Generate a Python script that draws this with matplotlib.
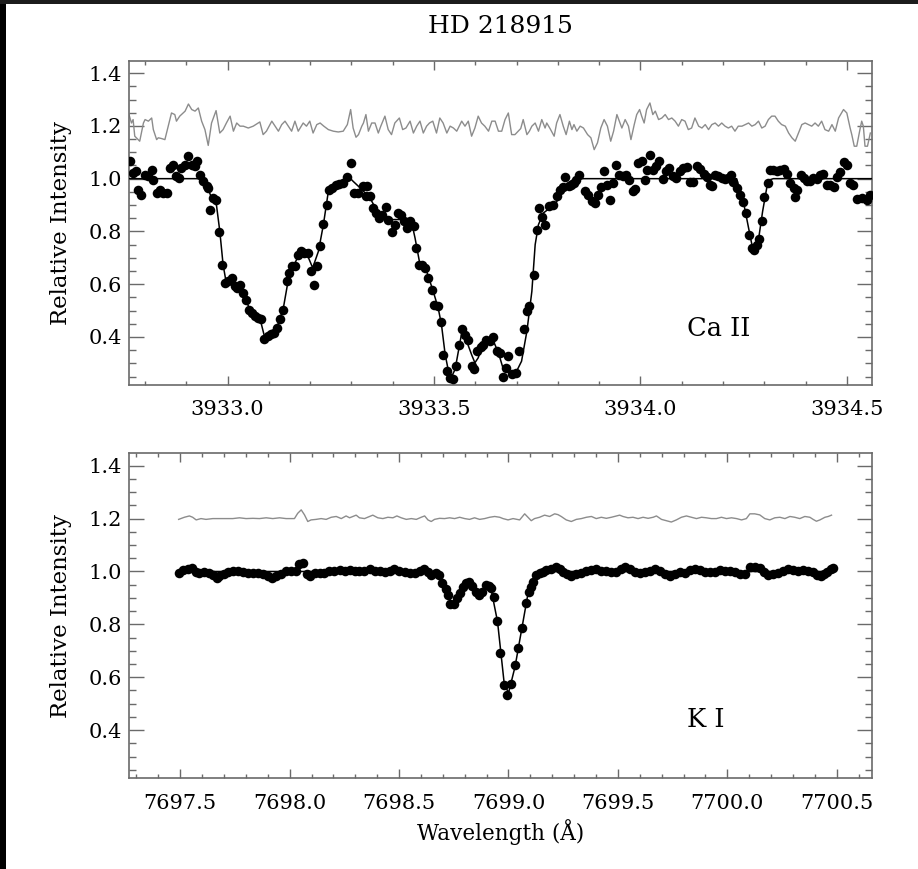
# -*- coding:utf-8 -*-
import matplotlib
matplotlib.use('Agg')
import matplotlib.pyplot as plt
from matplotlib.ticker import MultipleLocator, FormatStrFormatter
from matplotlib.patches import Rectangle

# ---------------- Ca II (upper panel) ----------------
ca_wave = [3932.763, 3932.770, 3932.778, 3932.783, 3932.791, 3932.800, 3932.808, 3932.816, 3932.820, 3932.828,
           3932.836, 3932.844, 3932.852, 3932.860, 3932.868, 3932.876, 3932.883, 3932.888, 3932.897, 3932.905,
           3932.913, 3932.921, 3932.926, 3932.933, 3932.941, 3932.949, 3932.953, 3932.957, 3932.965, 3932.973,
           3932.979, 3932.987, 3932.993, 3933.002, 3933.010, 3933.018, 3933.023, 3933.030, 3933.038, 3933.044,
           3933.052, 3933.058, 3933.066, 3933.074, 3933.082, 3933.089, 3933.097, 3933.105, 3933.113, 3933.120,
           3933.127, 3933.135, 3933.143, 3933.149, 3933.155, 3933.163, 3933.170, 3933.178, 3933.186, 3933.195,
           3933.201, 3933.210, 3933.217, 3933.224, 3933.232, 3933.240, 3933.246, 3933.254, 3933.262, 3933.270,
           3933.279, 3933.288, 3933.299, 3933.307, 3933.315, 3933.327, 3933.335, 3933.337, 3933.345, 3933.351,
           3933.359, 3933.367, 3933.375, 3933.384, 3933.389, 3933.397, 3933.405, 3933.412, 3933.420, 3933.428,
           3933.435, 3933.442, 3933.451, 3933.456, 3933.464, 3933.472, 3933.478, 3933.486, 3933.494, 3933.501,
           3933.510, 3933.517, 3933.522, 3933.531, 3933.539, 3933.547, 3933.553, 3933.561, 3933.567, 3933.575,
           3933.583, 3933.591, 3933.597, 3933.605, 3933.613, 3933.619, 3933.627, 3933.636, 3933.642, 3933.652,
           3933.660, 3933.666, 3933.674, 3933.680, 3933.688, 3933.699, 3933.707,
           3933.719, 3933.725, 3933.731, 3933.741, 3933.749, 3933.755, 3933.761, 3933.769, 3933.779, 3933.788,
           3933.797, 3933.805, 3933.813, 3933.818, 3933.826, 3933.832, 3933.838, 3933.844, 3933.851, 3933.866,
           3933.874, 3933.882, 3933.890, 3933.896, 3933.904, 3933.912, 3933.920, 3933.927, 3933.933, 3933.941,
           3933.949, 3933.957, 3933.965, 3933.973, 3933.981, 3933.987, 3933.995, 3934.003, 3934.010, 3934.015,
           3934.023, 3934.030, 3934.038, 3934.046, 3934.054, 3934.062, 3934.070, 3934.078, 3934.086, 3934.095,
           3934.104, 3934.112, 3934.120, 3934.128, 3934.136, 3934.145, 3934.153, 3934.161, 3934.169, 3934.174,
           3934.181, 3934.189, 3934.197, 3934.205, 3934.213, 3934.219, 3934.225, 3934.233, 3934.240, 3934.248,
           3934.256, 3934.264, 3934.271, 3934.275, 3934.282, 3934.287, 3934.294, 3934.300, 3934.308, 3934.314,
           3934.322, 3934.330, 3934.339, 3934.347, 3934.355, 3934.363, 3934.371, 3934.375, 3934.380, 3934.388,
           3934.397, 3934.403, 3934.411, 3934.419, 3934.427, 3934.435, 3934.443, 3934.452, 3934.460, 3934.468,
           3934.476, 3934.484, 3934.492, 3934.500, 3934.508, 3934.515, 3934.524, 3934.536, 3934.548, 3934.557]
ca_flux = [1.066, 1.021, 1.028, 0.958, 0.939, 1.015, 1.009, 1.034, 0.996, 0.946,
           0.958, 0.946, 0.946, 1.040, 1.053, 1.009, 1.003, 1.040, 1.053, 1.085,
           1.053, 1.047, 1.066, 1.015, 0.990, 0.971, 0.965, 0.883, 0.927, 0.920,
           0.797, 0.672, 0.605, 0.611, 0.624, 0.592, 0.586, 0.598, 0.567, 0.539,
           0.504, 0.491, 0.479, 0.472, 0.468, 0.394, 0.403, 0.412, 0.415, 0.434,
           0.468, 0.504, 0.611, 0.643, 0.668, 0.668, 0.712, 0.725, 0.718, 0.718,
           0.649, 0.598, 0.668, 0.744, 0.828, 0.899, 0.958, 0.965, 0.977, 0.981,
           0.984, 1.005, 1.059, 0.946, 0.946, 0.971, 0.933, 0.971, 0.933, 0.889,
           0.870, 0.851, 0.864, 0.891, 0.845, 0.797, 0.826, 0.870, 0.864, 0.838,
           0.813, 0.838, 0.819, 0.737, 0.674, 0.674, 0.662, 0.624, 0.577, 0.523,
           0.516, 0.456, 0.330, 0.270, 0.245, 0.241, 0.289, 0.371, 0.432, 0.409,
           0.390, 0.289, 0.277, 0.348, 0.361, 0.371, 0.390, 0.384, 0.399, 0.348,
           0.340, 0.247, 0.283, 0.327, 0.260, 0.264, 0.346,
           0.432, 0.497, 0.516, 0.633, 0.804, 0.889, 0.855, 0.823, 0.895, 0.899,
           0.933, 0.958, 0.967, 1.005, 0.971, 0.977, 0.984, 0.996, 1.013, 0.955,
           0.937, 0.914, 0.908, 0.939, 0.967, 1.028, 0.977, 0.920, 0.984, 1.053,
           1.015, 1.009, 1.015, 0.996, 0.952, 0.962, 1.059, 1.066, 0.996, 1.034,
           1.091, 1.034, 1.047, 1.066, 0.999, 1.030, 1.040, 1.009, 1.003, 1.028,
           1.040, 1.043, 0.987, 0.986, 1.047, 1.038, 1.018, 1.005, 0.977, 0.971,
           1.013, 1.009, 1.003, 1.000, 1.003, 1.013, 0.986, 0.965, 0.939, 0.910,
           0.870, 0.788, 0.737, 0.729, 0.750, 0.773, 0.841, 0.929, 0.984, 1.034,
           1.032, 1.028, 1.034, 1.038, 1.018, 0.984, 0.965, 0.931, 0.958, 1.013,
           1.003, 0.990, 0.992, 1.003, 1.000, 1.013, 1.018, 0.977, 0.977, 0.967,
           1.005, 1.025, 1.062, 1.053, 0.984, 0.977, 0.924, 0.927, 0.920, 0.937]

# fitted profile
ca_fit_wave = [3932.761, 3932.933, 3932.949, 3932.961, 3932.973, 3932.981, 3932.989, 3932.996, 3933.014, 3933.038,
               3933.054, 3933.078, 3933.089, 3933.102, 3933.119, 3933.135, 3933.147, 3933.159, 3933.175, 3933.190,
               3933.206, 3933.220, 3933.232, 3933.244, 3933.256, 3933.272, 3933.296, 3933.304, 3933.321, 3933.345,
               3933.361, 3933.377, 3933.393, 3933.409, 3933.426, 3933.446, 3933.454, 3933.466, 3933.482, 3933.498,
               3933.510, 3933.518, 3933.527, 3933.535, 3933.543, 3933.551, 3933.559, 3933.567, 3933.579, 3933.591,
               3933.599, 3933.607, 3933.619, 3933.636, 3933.644, 3933.656, 3933.668, 3933.684, 3933.700, 3933.712,
               3933.725, 3933.737, 3933.745, 3933.753, 3933.765, 3933.781, 3933.797, 3933.813, 3933.830, 3933.846,
               3934.233, 3934.250, 3934.262, 3934.270, 3934.278, 3934.286, 3934.296, 3934.306, 3934.314, 3934.322,
               3934.561]
ca_fit_flux = [1.0, 1.0, 0.977, 0.927, 0.899, 0.801, 0.674, 0.611, 0.592, 0.561,
               0.504, 0.472, 0.403, 0.409, 0.434, 0.510, 0.617, 0.668, 0.718, 0.722,
               0.662, 0.725, 0.826, 0.952, 0.977, 0.990, 1.003, 0.990, 0.965, 0.927,
               0.879, 0.857, 0.845, 0.845, 0.845, 0.832, 0.775, 0.674, 0.649, 0.573,
               0.510, 0.447, 0.333, 0.270, 0.251, 0.277, 0.346, 0.415, 0.384, 0.333,
               0.302, 0.321, 0.371, 0.394, 0.384, 0.340, 0.277, 0.264, 0.270, 0.308,
               0.422, 0.573, 0.750, 0.826, 0.870, 0.889, 0.912, 0.965, 0.990, 1.0,
               1.0, 0.908, 0.813, 0.750, 0.735, 0.769, 0.876, 0.965, 0.996, 1.0,
               1.0]

# residuals (shifted up to 1.2)
ca_res_wave = [3932.761, 3932.767, 3932.771, 3932.775, 3932.783, 3932.787, 3932.796, 3932.800, 3932.808, 3932.816,
               3932.820, 3932.828, 3932.832, 3932.840, 3932.848, 3932.856, 3932.864, 3932.872, 3932.876, 3932.884,
               3932.897, 3932.905, 3932.913, 3932.921, 3932.929, 3932.937, 3932.945, 3932.953, 3932.961, 3932.972,
               3932.981, 3932.989, 3932.997, 3933.006, 3933.014, 3933.022, 3933.030, 3933.038, 3933.050, 3933.062,
               3933.078, 3933.086, 3933.094, 3933.107, 3933.115, 3933.123, 3933.131, 3933.139, 3933.147, 3933.155,
               3933.163, 3933.171, 3933.183, 3933.191, 3933.199, 3933.207, 3933.216, 3933.224, 3933.233, 3933.244,
               3933.256, 3933.268, 3933.280, 3933.290, 3933.298, 3933.304, 3933.311, 3933.317, 3933.325, 3933.329,
               3933.335, 3933.341, 3933.349, 3933.357, 3933.365, 3933.371, 3933.381, 3933.389, 3933.397, 3933.405,
               3933.416, 3933.424, 3933.432, 3933.442, 3933.450, 3933.458, 3933.466, 3933.474, 3933.482, 3933.489,
               3933.497, 3933.506, 3933.514, 3933.522, 3933.531, 3933.539, 3933.547, 3933.555, 3933.567, 3933.575,
               3933.583, 3933.591, 3933.599, 3933.607, 3933.615, 3933.623, 3933.632, 3933.640, 3933.648, 3933.656,
               3933.664, 3933.672, 3933.680, 3933.688, 3933.696,
               3933.710, 3933.716, 3933.725, 3933.731, 3933.737, 3933.745, 3933.753, 3933.761, 3933.769, 3933.773,
               3933.781, 3933.791, 3933.797, 3933.805, 3933.813, 3933.820, 3933.828, 3933.834, 3933.839, 3933.846,
               3933.854, 3933.862, 3933.872, 3933.880, 3933.888, 3933.896, 3933.904, 3933.912, 3933.920, 3933.928,
               3933.935, 3933.943, 3933.949, 3933.955, 3933.963, 3933.971, 3933.977, 3933.985, 3933.991, 3933.998,
               3934.003, 3934.009, 3934.015, 3934.023, 3934.030, 3934.036, 3934.044, 3934.052, 3934.060, 3934.068,
               3934.076, 3934.084, 3934.092, 3934.100, 3934.108, 3934.116, 3934.124, 3934.132, 3934.141, 3934.149,
               3934.157, 3934.165, 3934.173, 3934.181, 3934.189, 3934.197, 3934.205, 3934.213, 3934.221, 3934.229,
               3934.237, 3934.246, 3934.254, 3934.262, 3934.270, 3934.278, 3934.286, 3934.294, 3934.302, 3934.310,
               3934.318, 3934.326, 3934.334, 3934.342, 3934.351, 3934.359, 3934.367, 3934.375, 3934.383, 3934.391,
               3934.399, 3934.407, 3934.415, 3934.423, 3934.431, 3934.439, 3934.447, 3934.456, 3934.464, 3934.472,
               3934.480, 3934.492, 3934.500, 3934.508, 3934.512, 3934.518, 3934.524, 3934.531, 3934.536, 3934.540,
               3934.544, 3934.550, 3934.557]
ca_res_flux = [1.243, 1.211, 1.224, 1.161, 1.148, 1.142, 1.211, 1.224, 1.218, 1.230,
               1.186, 1.148, 1.155, 1.152, 1.148, 1.199, 1.249, 1.243, 1.218, 1.237,
               1.256, 1.283, 1.262, 1.256, 1.268, 1.218, 1.186, 1.126, 1.211, 1.258,
               1.173, 1.186, 1.211, 1.237, 1.180, 1.211, 1.199, 1.199, 1.192, 1.199,
               1.215, 1.167, 1.180, 1.218, 1.199, 1.180, 1.205, 1.218, 1.199, 1.180,
               1.218, 1.180, 1.211, 1.199, 1.218, 1.173, 1.205, 1.211, 1.199, 1.186,
               1.180, 1.177, 1.180, 1.205, 1.262, 1.192, 1.157, 1.167, 1.199, 1.211,
               1.243, 1.180, 1.211, 1.211, 1.173, 1.199, 1.237, 1.186, 1.167, 1.211,
               1.230, 1.186, 1.192, 1.218, 1.173, 1.199, 1.218, 1.173, 1.199, 1.211,
               1.218, 1.173, 1.230, 1.211, 1.173, 1.199, 1.192, 1.180, 1.218, 1.199,
               1.218, 1.161, 1.192, 1.237, 1.211, 1.199, 1.180, 1.218, 1.218, 1.180,
               1.180, 1.224, 1.249, 1.167, 1.167,
               1.190, 1.224, 1.167, 1.180, 1.199, 1.211, 1.180, 1.224, 1.192, 1.211,
               1.190, 1.161, 1.211, 1.243, 1.199, 1.167, 1.218, 1.186, 1.205, 1.180,
               1.199, 1.192, 1.167, 1.155, 1.110, 1.136, 1.192, 1.224, 1.199, 1.142,
               1.180, 1.243, 1.218, 1.192, 1.224, 1.199, 1.148, 1.205, 1.243, 1.262,
               1.237, 1.211, 1.262, 1.287, 1.243, 1.256, 1.224, 1.230, 1.243, 1.224,
               1.230, 1.218, 1.199, 1.224, 1.218, 1.186, 1.192, 1.230, 1.199, 1.192,
               1.205, 1.186, 1.205, 1.211, 1.199, 1.211, 1.199, 1.192, 1.199, 1.180,
               1.199, 1.199, 1.205, 1.211, 1.199, 1.205, 1.218, 1.192, 1.199, 1.224,
               1.237, 1.237, 1.218, 1.205, 1.199, 1.173, 1.155, 1.142, 1.173, 1.205,
               1.211, 1.205, 1.199, 1.211, 1.199, 1.218, 1.186, 1.180, 1.205, 1.180,
               1.230, 1.262, 1.249, 1.192, 1.167, 1.123, 1.123, 1.180, 1.218, 1.199,
               1.123, 1.123, 1.173]

# ---------------- K I (lower panel) ----------------
k_wave = [7697.493, 7697.512, 7697.534, 7697.554, 7697.570, 7697.588, 7697.611, 7697.630, 7697.649, 7697.667,
          7697.679, 7697.698, 7697.717, 7697.740, 7697.763, 7697.786, 7697.809, 7697.832, 7697.855, 7697.877,
          7697.900, 7697.920, 7697.938, 7697.961, 7697.984, 7698.007, 7698.027, 7698.045, 7698.060, 7698.080,
          7698.094, 7698.114, 7698.137, 7698.159, 7698.182, 7698.205, 7698.228, 7698.251, 7698.274, 7698.297,
          7698.319, 7698.342, 7698.365, 7698.388, 7698.411, 7698.434, 7698.457, 7698.479, 7698.502, 7698.525,
          7698.548, 7698.571, 7698.594, 7698.612, 7698.632, 7698.647, 7698.667, 7698.682, 7698.697, 7698.713,
          7698.723, 7698.735, 7698.751, 7698.766, 7698.777, 7698.792, 7698.807, 7698.819, 7698.835, 7698.850,
          7698.865, 7698.880, 7698.896, 7698.911, 7698.922, 7698.932, 7698.948, 7698.963, 7698.978, 7698.993,
          7699.013, 7699.030, 7699.043, 7699.062, 7699.078, 7699.094, 7699.104, 7699.112, 7699.127, 7699.142,
          7699.158, 7699.173, 7699.196, 7699.219, 7699.234, 7699.249, 7699.267, 7699.287, 7699.310, 7699.333,
          7699.356, 7699.379, 7699.401, 7699.424, 7699.447, 7699.470, 7699.493, 7699.516, 7699.531, 7699.554,
          7699.577, 7699.600, 7699.622, 7699.645, 7699.668, 7699.691, 7699.714, 7699.737, 7699.760, 7699.783,
          7699.805, 7699.828, 7699.851, 7699.874, 7699.897, 7699.920, 7699.943, 7699.965, 7699.988, 7700.011,
          7700.034, 7700.057, 7700.080, 7700.103, 7700.125, 7700.148, 7700.167, 7700.186, 7700.209, 7700.232,
          7700.255, 7700.278, 7700.301, 7700.324, 7700.346, 7700.369, 7700.392, 7700.410, 7700.426, 7700.441,
          7700.456, 7700.472, 7700.484]
k_flux = [0.995, 1.005, 1.011, 1.014, 0.999, 0.995, 0.997, 0.995, 0.986, 0.977,
          0.982, 0.992, 0.997, 1.001, 1.003, 0.999, 0.996, 0.995, 0.995, 0.989,
          0.982, 0.977, 0.982, 0.992, 1.000, 1.001, 1.003, 1.030, 1.033, 0.992,
          0.984, 0.995, 0.995, 0.996, 1.000, 1.001, 1.005, 1.003, 1.005, 1.001,
          1.003, 1.001, 1.008, 1.003, 1.001, 0.999, 1.001, 1.008, 1.003, 0.999,
          0.995, 0.996, 1.003, 1.011, 0.999, 0.986, 0.995, 0.987, 0.957, 0.932,
          0.911, 0.877, 0.877, 0.898, 0.919, 0.942, 0.957, 0.961, 0.945, 0.923,
          0.911, 0.923, 0.948, 0.946, 0.936, 0.904, 0.813, 0.690, 0.570, 0.532,
          0.574, 0.646, 0.709, 0.785, 0.882, 0.923, 0.942, 0.961, 0.986, 0.995,
          0.999, 1.005, 1.011, 1.018, 1.011, 0.999, 0.992, 0.982, 0.990, 0.995,
          1.001, 1.005, 1.009, 1.003, 1.001, 0.999, 0.999, 1.008, 1.018, 1.008,
          0.999, 0.995, 0.999, 1.001, 1.008, 1.001, 0.992, 0.982, 0.992, 0.999,
          0.996, 1.005, 1.011, 1.005, 0.999, 0.999, 0.999, 1.005, 1.003, 1.001,
          0.999, 0.992, 0.992, 1.018, 1.018, 1.015, 0.999, 0.986, 0.990, 0.995,
          1.003, 1.008, 1.005, 1.001, 1.005, 1.001, 0.999, 0.986, 0.982, 0.992,
          0.999, 1.008, 1.014]

k_fit_wave = [7697.50, 7698.66, 7698.70, 7698.74, 7698.76, 7698.80, 7698.82, 7698.87, 7698.90, 7698.92,
              7698.95, 7698.98, 7699.00, 7699.03, 7699.06, 7699.09, 7699.13, 7699.17, 7700.48]
k_fit_flux = [1.0, 1.0, 0.955, 0.880, 0.890, 0.950, 0.960, 0.915, 0.945, 0.935,
              0.810, 0.580, 0.540, 0.640, 0.780, 0.920, 0.985, 1.0, 1.0]

k_res_wave = [7697.493, 7697.519, 7697.542, 7697.557, 7697.573, 7697.595, 7697.618, 7697.649, 7697.679, 7697.710,
              7697.740, 7697.771, 7697.801, 7697.832, 7697.862, 7697.893, 7697.923, 7697.954, 7697.984, 7698.022,
              7698.037, 7698.053, 7698.068, 7698.083, 7698.098, 7698.121, 7698.144, 7698.167, 7698.190, 7698.213,
              7698.236, 7698.258, 7698.274, 7698.289, 7698.304, 7698.319, 7698.342, 7698.365, 7698.380, 7698.403,
              7698.426, 7698.449, 7698.472, 7698.490, 7698.510, 7698.533, 7698.556, 7698.579, 7698.601, 7698.617,
              7698.632, 7698.647, 7698.662, 7698.685, 7698.708, 7698.731, 7698.754, 7698.777, 7698.800, 7698.822,
              7698.845, 7698.868, 7698.891, 7698.914, 7698.937, 7698.960, 7698.975, 7698.998, 7699.021, 7699.051,
              7699.074, 7699.089, 7699.104, 7699.119, 7699.142, 7699.165, 7699.188, 7699.211, 7699.226, 7699.241,
              7699.264, 7699.287, 7699.310, 7699.333, 7699.356, 7699.379, 7699.401, 7699.424, 7699.447, 7699.470,
              7699.493, 7699.508, 7699.523, 7699.546, 7699.569, 7699.592, 7699.615, 7699.638, 7699.661, 7699.676,
              7699.699, 7699.722, 7699.744, 7699.767, 7699.790, 7699.813, 7699.836, 7699.859, 7699.882, 7699.904,
              7699.927, 7699.950, 7699.973, 7699.996, 7700.019, 7700.042, 7700.065, 7700.087, 7700.103, 7700.125,
              7700.148, 7700.171, 7700.194, 7700.217, 7700.240, 7700.263, 7700.286, 7700.308, 7700.331, 7700.354,
              7700.377, 7700.392, 7700.407, 7700.423, 7700.446, 7700.461, 7700.476]
k_res_flux = [1.197, 1.205, 1.210, 1.205, 1.195, 1.200, 1.197, 1.200, 1.200, 1.200,
              1.200, 1.203, 1.200, 1.201, 1.200, 1.203, 1.200, 1.203, 1.200, 1.200,
              1.220, 1.233, 1.214, 1.189, 1.195, 1.197, 1.200, 1.197, 1.205, 1.208,
              1.200, 1.210, 1.203, 1.208, 1.213, 1.203, 1.200, 1.208, 1.213, 1.203,
              1.200, 1.205, 1.203, 1.210, 1.203, 1.197, 1.200, 1.197, 1.205, 1.210,
              1.195, 1.189, 1.197, 1.201, 1.200, 1.203, 1.200, 1.205, 1.200, 1.197,
              1.203, 1.197, 1.200, 1.205, 1.208, 1.205, 1.200, 1.195, 1.200, 1.195,
              1.218, 1.205, 1.192, 1.200, 1.205, 1.213, 1.208, 1.218, 1.215, 1.208,
              1.195, 1.189, 1.197, 1.200, 1.205, 1.208, 1.200, 1.205, 1.201, 1.205,
              1.210, 1.213, 1.208, 1.203, 1.205, 1.200, 1.205, 1.201, 1.205, 1.210,
              1.197, 1.192, 1.187, 1.195, 1.205, 1.210, 1.205, 1.200, 1.205, 1.203,
              1.200, 1.200, 1.205, 1.200, 1.203, 1.200, 1.195, 1.200, 1.218, 1.218,
              1.214, 1.200, 1.195, 1.203, 1.205, 1.200, 1.208, 1.205, 1.200, 1.208,
              1.205, 1.197, 1.190, 1.195, 1.205, 1.208, 1.213]

TITLE = "HD 218915"
FONT = 'DejaVu Serif'
FRAME = '#6a6a6a'
RESID = '#8c8c8c'

plt.rcParams['font.family'] = [FONT]
plt.rcParams['mathtext.fontset'] = 'dejavuserif'


# One spectrum panel: points, fit and residual line
def drawPanel(ax, wave, flux, fit_wave, fit_flux, res_wave, res_flux, xlim, label, label_pos):
    ax.plot(res_wave, res_flux, color=RESID, lw=1.0, zorder=2)
    ax.plot(fit_wave, fit_flux, color='black', lw=1.1, zorder=3)
    ax.plot(wave, flux, 'o', color='black', ms=6.9, mew=0, zorder=4)
    ax.text(label_pos[0], label_pos[1], label, fontsize=18.5, ha='left', va='center')

    ax.set_xlim(xlim)
    ax.set_ylim(0.218, 1.447)
    ax.xaxis.set_major_locator(MultipleLocator(0.5))
    ax.xaxis.set_minor_locator(MultipleLocator(0.1))
    ax.yaxis.set_major_locator(MultipleLocator(0.2))
    ax.yaxis.set_minor_locator(MultipleLocator(0.05))
    ax.xaxis.set_major_formatter(FormatStrFormatter('%.1f'))
    ax.yaxis.set_major_formatter(FormatStrFormatter('%.1f'))

    ax.tick_params(which='both', direction='in', top=True, right=True, colors=FRAME,
                   labelcolor='black', labelsize=15, width=1.0)
    ax.tick_params(axis='y', which='major', length=10.8, pad=5)
    ax.tick_params(axis='y', which='minor', length=5.2)
    ax.tick_params(axis='x', which='major', length=6.5, pad=11)
    ax.tick_params(axis='x', which='minor', length=3.2)
    for sp in ax.spines.values():
        sp.set_color(FRAME)
        sp.set_linewidth(1.2)

    ax.set_ylabel('Relative Intensity', fontsize=16.5)
    ax.yaxis.set_label_coords(-0.077, 0.5)


fig = plt.figure(figsize=(9.18, 8.69), dpi=100)
ax1 = fig.add_axes([0.1405, 0.5570, 0.8094, 0.3731])
ax2 = fig.add_axes([0.1405, 0.1044, 0.8094, 0.3740])

drawPanel(ax1, ca_wave, ca_flux, ca_fit_wave, ca_fit_flux, ca_res_wave, ca_res_flux,
          (3932.761, 3934.561), 'Ca II', (3934.113, 0.433))
drawPanel(ax2, k_wave, k_flux, k_fit_wave, k_fit_flux, k_res_wave, k_res_flux,
          (7697.266, 7700.661), 'K I', (7699.815, 0.442))

ax2.set_xlabel('Wavelength (Å)', fontsize=15.5)
ax2.xaxis.set_label_coords(0.5, -0.125)

fig.text(0.545, 0.969, TITLE, fontsize=18, ha='center', va='center')

# dark scan border of the original picture (left and top edges)
fig.patches.append(Rectangle((0, 0), 6 / 918, 1, transform=fig.transFigure,
                             facecolor='black', edgecolor='none', zorder=10))
fig.patches.append(Rectangle((0, 1 - 4 / 869), 1, 4 / 869, transform=fig.transFigure,
                             facecolor='#1c1c1c', edgecolor='none', zorder=10))

fig.savefig('out.png', dpi=100)
